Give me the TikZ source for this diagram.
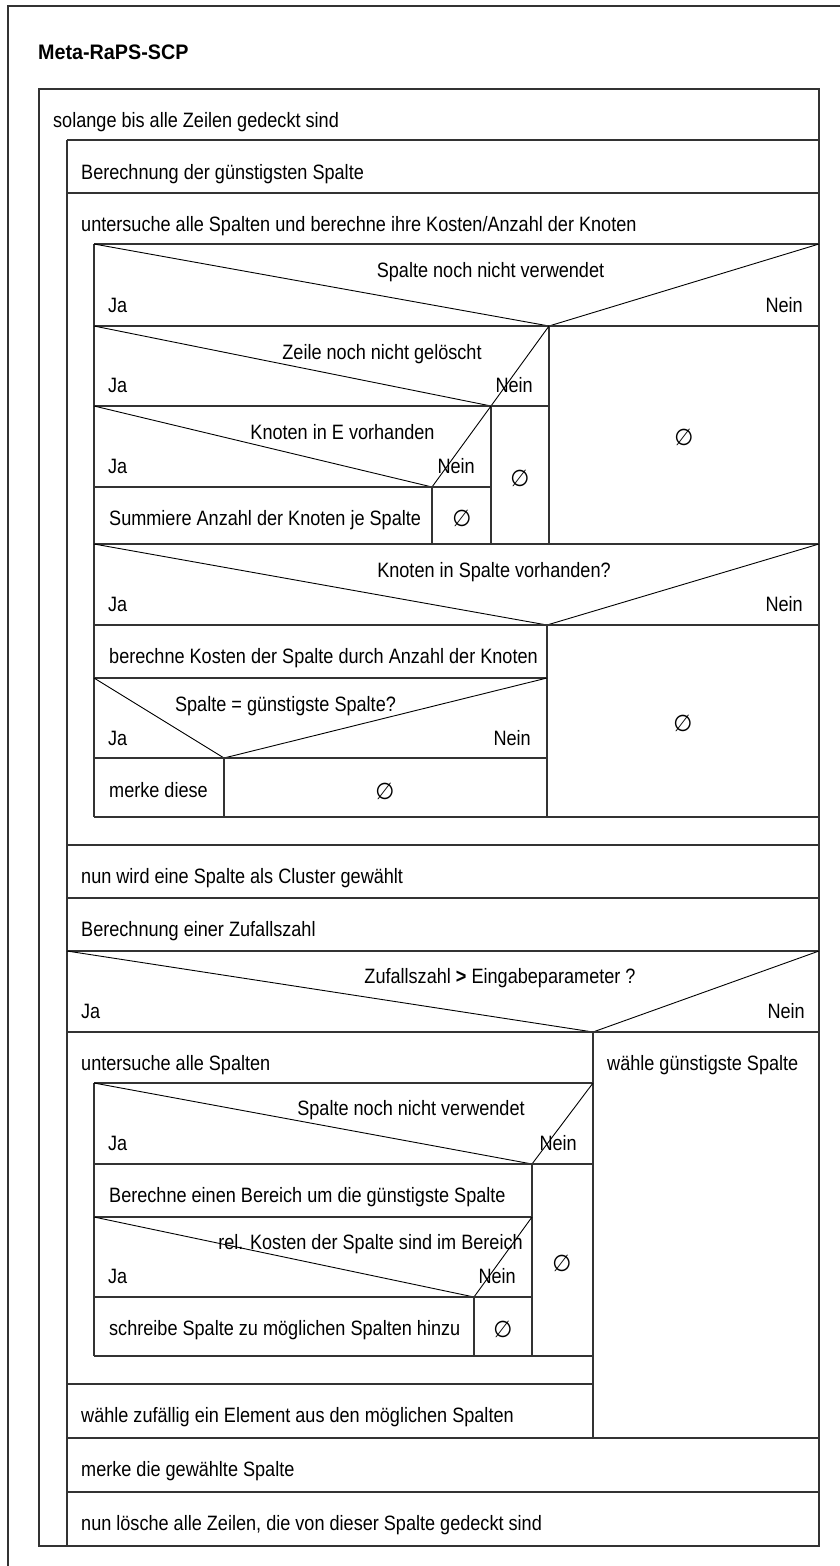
\documentclass[tikz,border=0pt]{standalone}
\usepackage{fontspec}
\setmainfont{Liberation Sans}[FakeStretch=0.87]
\newfontfamily\symfont{DejaVu Sans}[FakeStretch=0.95]
\newfontfamily\titlefont{Liberation Sans}[FakeStretch=0.94]
\begin{document}
\begin{tikzpicture}[x=1pt,y=-1pt,
  box/.style={draw=black!80, line width=1.3pt},
  diag/.style={draw=black, line width=0.9pt},
  txt/.style={anchor=base west, inner sep=0pt, font=\fontsize{20.8}{24}\selectfont},
  cond/.style={anchor=base, inner sep=0pt, font=\fontsize{20.8}{24}\selectfont},
  nein/.style={anchor=base east, inner sep=0pt, font=\fontsize{20.8}{24}\selectfont},
  empty/.style={anchor=center, inner sep=0pt, font=\symfont\fontsize{23}{26}\selectfont},
  titletxt/.style={anchor=base west, inner sep=0pt, font=\titlefont\bfseries\fontsize{21}{24}\selectfont}]
\useasboundingbox[fill=white] (0,0) rectangle (839,1566);
% outer frame
\draw[box] (8,1570) -- (8,6) -- (845,6);
\node[titletxt] (title) at (38,59.5) {Meta-RaPS-SCP};
% main loop
\draw[box] (39,89) rectangle (819,1546);
\draw[box] (67,140) -- (67,1546);
\draw[box] (67,140) -- (819,140);
\node[txt] (loop) at (53,127) {solange bis alle Zeilen gedeckt sind};
% Berechnung row
\draw[box] (67,193) -- (819,193);
\node[txt] (berech) at (81,179) {Berechnung der günstigsten Spalte};
% loop 2
\node[txt] (unters1) at (81,231) {untersuche alle Spalten und berechne ihre Kosten/Anzahl der Knoten};
\draw[box] (94,244) -- (819,244);
\draw[box] (94,244) -- (94,817);
\draw[box] (94,817) -- (819,817);
\draw[box] (67,845) -- (819,845);
% D1
\draw[diag] (94,244) -- (549,326) -- (819,244);
\draw[box] (94,326) -- (819,326);
\draw[box] (549,326) -- (549,544);
\node[cond] (c1) at (490.5,277) {Spalte noch nicht verwendet};
\node[txt] (ja1) at (108,312) {Ja};
\node[nein] (n1) at (803,312) {Nein};
\node[empty] (e1) at (684,437) {∅};
% D2
\draw[diag] (94,326) -- (491,406) -- (549,326);
\draw[box] (94,406) -- (549,406);
\draw[box] (491,406) -- (491,544);
\node[cond] (c2) at (382,359) {Zeile noch nicht gelöscht};
\node[txt] (ja2) at (108,392) {Ja};
\node[nein] (n2) at (533,392) {Nein};
\node[empty] (e2) at (520,478) {∅};
% D3
\draw[diag] (94,406) -- (432,487) -- (491,406);
\draw[box] (94,487) -- (491,487);
\draw[box] (432,487) -- (432,544);
\node[cond] (c3) at (342.5,439) {Knoten in E vorhanden};
\node[txt] (ja3) at (108,473) {Ja};
\node[nein] (n3) at (475,473) {Nein};
\node[txt] (summ) at (109,525) {Summiere Anzahl der Knoten je Spalte};
\node[empty] (e3) at (462,518) {∅};
\draw[box] (94,544) -- (819,544);
% D4
\draw[diag] (94,544) -- (547,625) -- (819,544);
\draw[box] (94,625) -- (819,625);
\draw[box] (547,625) -- (547,817);
\node[cond] (c4) at (494,577) {Knoten in Spalte vorhanden?};
\node[txt] (ja4) at (108,611) {Ja};
\node[nein] (n4) at (803,611) {Nein};
\node[empty] (e4) at (683,723) {∅};
\node[txt] (kosten) at (109,663) {berechne Kosten der Spalte durch Anzahl der Knoten};
\draw[box] (94,678) -- (547,678);
% D5
\draw[diag] (94,678) -- (224,758) -- (547,678);
\draw[box] (94,758) -- (547,758);
\draw[box] (224,758) -- (224,817);
\node[cond] (c5) at (285.5,711) {Spalte = günstigste Spalte?};
\node[txt] (ja5) at (108,745) {Ja};
\node[nein] (n5) at (531,745) {Nein};
\node[txt] (merke1) at (109,797) {merke diese};
\node[empty] (e5) at (385,791) {∅};
% rows
\node[txt] (cluster) at (81,883) {nun wird eine Spalte als Cluster gewählt};
\draw[box] (67,898) -- (819,898);
\node[txt] (zufall) at (81,936) {Berechnung einer Zufallszahl};
\draw[box] (67,951) -- (819,951);
% D6
\draw[diag] (67,951) -- (593,1032) -- (819,951);
\draw[box] (67,1032) -- (819,1032);
\draw[box] (593,1032) -- (593,1438);
\node[cond] (c6) at (500,983) {Zufallszahl \textbf{>} Eingabeparameter ?};
\node[txt] (ja6) at (81,1018) {Ja};
\node[nein] (n6) at (805,1018) {Nein};
\node[txt] (guenst) at (607,1070) {wähle günstigste Spalte};
% loop 3
\node[txt] (unters2) at (81,1070) {untersuche alle Spalten};
\draw[box] (94,1083) -- (593,1083);
\draw[box] (94,1083) -- (94,1356);
\draw[box] (94,1356) -- (593,1356);
\draw[box] (67,1384) -- (593,1384);
% D7
\draw[diag] (94,1083) -- (532,1164) -- (593,1083);
\draw[box] (94,1164) -- (593,1164);
\draw[box] (532,1164) -- (532,1356);
\node[cond] (c7) at (411,1115) {Spalte noch nicht verwendet};
\node[txt] (ja7) at (108,1150) {Ja};
\node[nein] (n7) at (577,1150) {Nein};
\node[empty] (e7) at (562,1263) {∅};
\node[txt] (bereich) at (109,1202) {Berechne einen Bereich um die günstigste Spalte};
\draw[box] (94,1217) -- (532,1217);
% D8
\draw[diag] (94,1217) -- (474,1297) -- (532,1217);
\draw[box] (94,1297) -- (532,1297);
\draw[box] (474,1297) -- (474,1356);
\node[cond] (c8) at (370.5,1249) {rel. Kosten der Spalte sind im Bereich};
\node[txt] (ja8) at (108,1283) {Ja};
\node[nein] (n8) at (516,1283) {Nein};
\node[txt] (schreibe) at (109,1335) {schreibe Spalte zu möglichen Spalten hinzu};
\node[empty] (e8) at (503,1329) {∅};
% final rows
\node[txt] (waehle) at (81,1422) {wähle zufällig ein Element aus den möglichen Spalten};
\draw[box] (67,1438) -- (819,1438);
\node[txt] (merke2) at (81,1476) {merke die gewählte Spalte};
\draw[box] (67,1492) -- (819,1492);
\node[txt] (loesche) at (81,1530) {nun lösche alle Zeilen, die von dieser Spalte gedeckt sind};
\end{tikzpicture}
\end{document}
